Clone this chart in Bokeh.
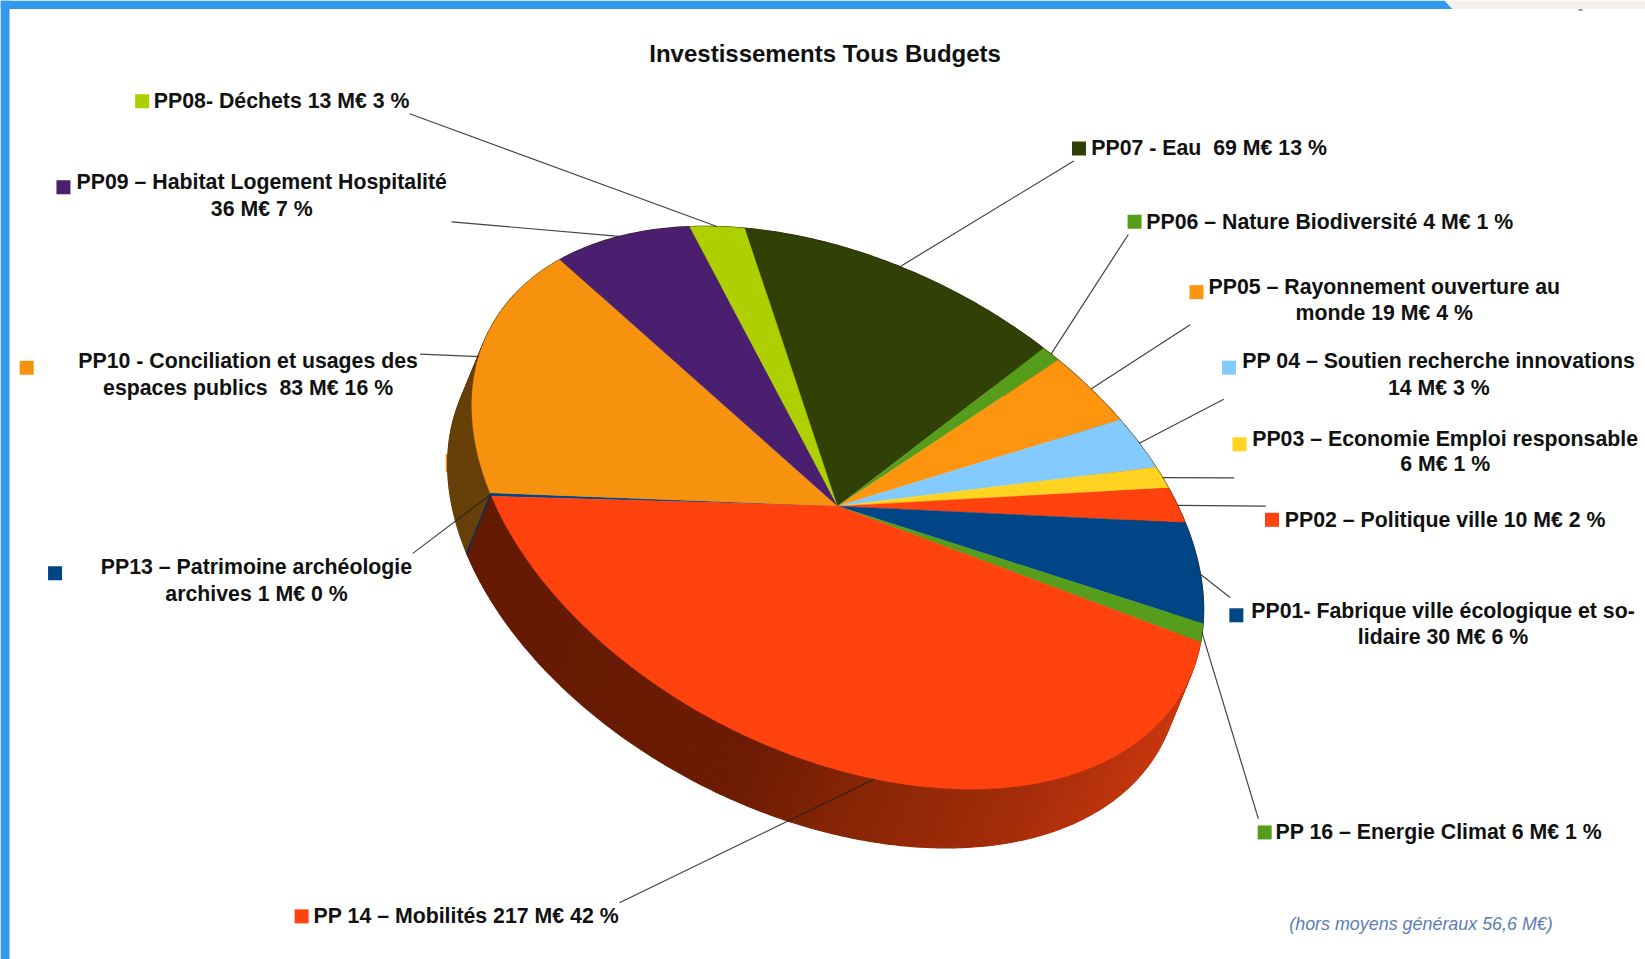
import numpy as np
from bokeh.plotting import figure
from bokeh.models import Range1d
from bokeh.core.properties import value
from bokeh.embed import file_html
from bokeh.resources import INLINE

# ---- data (clockwise, starting at the left of the pie) ----
codes = ["PP13", "PP10", "PP09", "PP08", "PP07", "PP06", "PP05", "PP04", "PP03", "PP02", "PP01", "PP16", "PP14"]
amounts = [1, 83, 36, 13, 69, 4, 19, 14, 6, 10, 30, 6, 217]
colors = ["#004586", "#F7920F", "#4B1F6F", "#AECF00", "#314004", "#579D1C", "#FF950E",
          "#83CAFF", "#FFD320", "#FF420E", "#004586", "#579D1C", "#FF420E"]
labels = [
    ["PP13 – Patrimoine archéologie", "archives 1 M€ 0 %"],
    ["PP10 - Conciliation et usages des", "espaces publics \u00a083 M€ 16 %"],
    ["PP09 – Habitat Logement Hospitalité", "36 M€ 7 %"],
    ["PP08- Déchets 13 M€ 3 %"],
    ["PP07 - Eau \u00a069 M€ 13 %"],
    ["PP06 – Nature Biodiversité 4 M€ 1 %"],
    ["PP05 – Rayonnement ouverture au", "monde 19 M€ 4 %"],
    ["PP 04 – Soutien recherche innovations", "14 M€ 3 %"],
    ["PP03 – Economie Emploi responsable", "6 M€ 1 %"],
    ["PP02 – Politique ville 10 M€ 2 %"],
    ["PP01- Fabrique ville écologique et so-", "lidaire 30 M€ 6 %"],
    ["PP 16 – Energie Climat 6 M€ 1 %"],
    ["PP 14 – Mobilités 217 M€ 42 %"],
]
title = "Investissements Tous Budgets"
note = "(hors moyens généraux 56,6 M€)"

# ---- layout, in pixels of the 1645x959 picture ----
S = 1645 / 1568
center = np.array([798 * S, 482 * S])       # where the slices meet
rim_center = np.array([798 * S, 483.5 * S]) # centre of the rim ellipse (slight perspective)
axis_a = np.array([-330 * S, -11 * S])      # rim vector where the first slice begins
axis_b = np.array([-113 * S, -268 * S])     # rim vector a quarter turn further
depth = np.array([-23 * S, 56 * S])         # thickness of the tilted pie

label_xy = [[(244, 540), (244, 566)], [(236, 344), (236, 369)], [(249, 173), (249, 199)], [(268, 96)],
            [(1152, 141)], [(1267, 211)], [(1319, 273), (1319, 298)], [(1371, 344), (1371, 369)],
            [(1377, 418), (1377, 442)], [(1377, 495)], [(1375, 582), (1375, 607)], [(1371, 793)], [(444, 873)]]
key_xy = [(52, 546), (25, 350), (60, 178), (135, 96), (1028, 141), (1081, 211), (1140, 278),
          (1171, 350), (1181, 423), (1212, 495), (1178, 586), (1205, 793), (287, 873)]
leader_end = [(393, 527), (400, 337), (430, 211), (390, 108), (1023, 153), (1075, 223), (1134, 309),
              (1166, 380), (1176, 455), (1206, 482), (1172, 569), (1199, 780), (590, 860)]
FONT = "Liberation Sans"
LABEL_SIZE = "21.3px"


def rim(phi):
    phi = np.asarray(phi, dtype=float)
    return (rim_center[0] + axis_a[0] * np.cos(phi) + axis_b[0] * np.sin(phi),
            rim_center[1] + axis_a[1] * np.cos(phi) + axis_b[1] * np.sin(phi))


p = figure(width=1645, height=959, x_range=Range1d(0, 1645), y_range=Range1d(959, 0),
           x_axis_type=None, y_axis_type=None, toolbar_location=None, output_backend="svg",
           min_border=0, outline_line_color=None, background_fill_color="white")
p.grid.visible = False

# frame of the screenshot
p.quad(left=[0], right=[9], top=[0], bottom=[959], color="#3399EE", line_color=None)
p.patch([0, 1444, 1452, 0], [0, 0, 8.5, 8.5], color="#3399EE", line_color=None)
p.patch([1444, 1645, 1645, 1452], [0, 0, 8.5, 8.5], color="#F3F1EA", line_color=None)
p.rect(x=[1580], y=[9.5], width=4, height=2, color="#999999", line_color=None)

amounts_arr = np.array(amounts, dtype=float)
edges = np.concatenate([[0], np.cumsum(amounts_arr)]) / amounts_arr.sum() * 2 * np.pi

# hidden key mark poking out behind the pie
p.rect(x=[431 * S], y=[441 * S], width=14, height=18, color="#F7920F", line_color=None)

# side wall
wall_x_stops = [445 * S, 700 * S, 800 * S, 950 * S, 1100 * S]
wall_r = [0x65, 0x6E, 0x88, 0xA4, 0xC8]
wall_g = [0x1A, 0x1D, 0x26, 0x2D, 0x38]
wall_b = [0x03, 0x04, 0x06, 0x0A, 0x10]
xs, ys, cs = [], [], []
for i in range(len(amounts)):
    n = max(2, int((edges[i + 1] - edges[i]) / np.radians(0.6)) + 1)
    phis = np.linspace(edges[i], edges[i + 1], n + 1)
    for a, b in zip(phis[:-1], phis[1:]):
        x0, y0 = rim([a, b])
        xs.append(list(x0) + list(x0[::-1] + depth[0]))
        ys.append(list(y0) + list(y0[::-1] + depth[1]))
        if codes[i] == "PP14":
            xm = x0.mean() + depth[0]
            cs.append("#%02x%02x%02x" % (int(np.interp(xm, wall_x_stops, wall_r)),
                                         int(np.interp(xm, wall_x_stops, wall_g)),
                                         int(np.interp(xm, wall_x_stops, wall_b))))
        elif codes[i] == "PP13":
            cs.append("#00305C")
        elif codes[i] == "PP10":
            cs.append("#664008")
        else:
            cs.append("#3a2a10")
p.patches(xs, ys, fill_color=cs, line_color=cs, line_width=1.2)

# top face
for i, c in enumerate(colors):
    phis = np.linspace(edges[i], edges[i + 1], max(4, int((edges[i + 1] - edges[i]) / np.radians(1)) + 2))
    x0, y0 = rim(phis)
    p.patch([center[0]] + list(x0), [center[1]] + list(y0), fill_color=c, line_color=c, line_width=0.4)

# leaders: from the middle of each slice's rim to its label
mids = (edges[:-1] + edges[1:]) / 2
mx, my = rim(mids)
for i, (ex, ey) in enumerate(leader_end):
    p.line([mx[i], ex * S], [my[i], ey * S], line_color="#222222", line_width=1.2, line_alpha=0.85)

# key marks
p.rect(x=[k[0] * S for k in key_xy], y=[k[1] * S for k in key_xy], width=14, height=14,
       fill_color=colors, line_color=None)

# texts
tx, ty, tt = [], [], []
for lines, pos in zip(labels, label_xy):
    for line, (x, y) in zip(lines, pos):
        tx.append(x * S)
        ty.append(y * S)
        tt.append(line)
p.text(x=tx, y=ty, text=tt, text_font=value(FONT), text_font_style="bold", text_font_size=value(LABEL_SIZE),
       text_align="center", text_baseline="middle", text_color="#111111")
p.text(x=[786 * S], y=[50.5 * S], text=[title], text_font=value(FONT), text_font_style="bold",
       text_font_size=value("24px"), text_align="center", text_baseline="middle", text_color="#111111")
p.text(x=[1354 * S], y=[880 * S], text=[note], text_font=value(FONT), text_font_style="italic",
       text_font_size=value("17.9px"), text_align="center", text_baseline="middle", text_color="#5B7DB5")

open("out.html", "w").write(file_html(p, INLINE))
